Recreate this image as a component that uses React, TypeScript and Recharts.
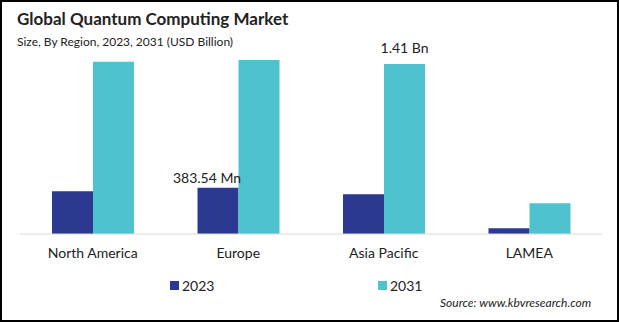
import React from "react";
import { BarChart, Bar, XAxis, YAxis, Legend, LabelList } from "recharts";

const regions = ["North America", "Europe", "Asia Pacific", "LAMEA"];
const values2023 = [0.355, 0.3835, 0.33, 0.047];
const values2031 = [1.427, 1.443, 1.41, 0.255];
const labels2023 = ["", "383.54  Mn", "", ""];
const labels2031 = ["", "", "1.41 Bn", ""];

const COLOR_2023 = "#2b3990";
const COLOR_2031 = "#4ec3cf";
const FONT = "Lato, 'Open Sans', sans-serif";

const data = regions.map((region, i) => ({
  region,
  y2023: values2023[i],
  y2031: values2031[i],
  l2023: labels2023[i],
  l2031: labels2031[i],
}));

function barLabel(dx: number, lift: number) {
  return (props: any) => {
    const { x, y, width, value } = props;
    if (!value) return null;
    return (
      <text
        x={Number(x) + Number(width) / 2 + dx}
        y={Number(y) - lift}
        textAnchor="middle"
        fill="#222"
        fontSize={14}
        fontFamily={FONT}
      >
        {value}
      </text>
    );
  };
}

function LegendContent() {
  const items = [
    { name: "2023", color: COLOR_2023, left: 170 },
    { name: "2031", color: COLOR_2031, left: 378 },
  ];
  return (
    <div style={{ position: "relative", height: 20 }}>
      {items.map((it) => (
        <div
          key={it.name}
          style={{
            position: "absolute",
            left: it.left,
            top: 0,
            display: "flex",
            alignItems: "center",
            fontFamily: FONT,
            fontSize: 14,
            color: "#222",
          }}
        >
          <span style={{ width: 9, height: 9, background: it.color, marginRight: 3, display: "inline-block" }} />
          {it.name}
        </div>
      ))}
    </div>
  );
}

export default function App() {
  return (
    <div style={{ position: "absolute", left: 0, top: 0, width: 619, height: 322, background: "#fff", overflow: "hidden" }}>
      <div style={{ position: "absolute", left: 17, top: 8, fontFamily: FONT, fontWeight: 700, fontSize: 17, color: "#222" }}>
        Global Quantum Computing Market
      </div>
      <div style={{ position: "absolute", left: 17, top: 34, fontFamily: FONT, fontSize: 12, color: "#222" }}>
        Size, By Region, 2023, 2031 (USD Billion)
      </div>
      <BarChart
        width={619}
        height={322}
        data={data}
        margin={{ top: 41, right: 17, left: 20, bottom: 58 }}
        barGap={0}
        barSize={41}
      >
        <YAxis hide domain={[0, 1.6]} />
        <XAxis
          dataKey="region"
          tickLine={false}
          axisLine={{ stroke: "#d9d9d9" }}
          tickMargin={8}
          tick={{ fill: "#222", fontSize: 14, fontFamily: FONT }}
          interval={0}
        />
        <Legend
          verticalAlign="middle"
          align="center"
          layout="horizontal"
          wrapperStyle={{ top: 277, left: 0, width: 619 }}
          content={() => <LegendContent />}
        />
        <Bar dataKey="y2023" name="2023" fill={COLOR_2023} isAnimationActive={false}>
          <LabelList dataKey="l2023" content={barLabel(-11, 5)} />
        </Bar>
        <Bar dataKey="y2031" name="2031" fill={COLOR_2031} isAnimationActive={false}>
          <LabelList dataKey="l2031" content={barLabel(0, 11)} />
        </Bar>
      </BarChart>
      <div style={{ position: "absolute", left: 440, top: 295, fontFamily: FONT, fontStyle: "italic", fontSize: 12, color: "#222" }}>
        Source: www.kbvresearch.com
      </div>
      <div style={{ position: "absolute", left: 0, top: 0, width: 619, height: 322, boxSizing: "border-box", border: "2px solid #000", pointerEvents: "none" }} />
    </div>
  );
}
